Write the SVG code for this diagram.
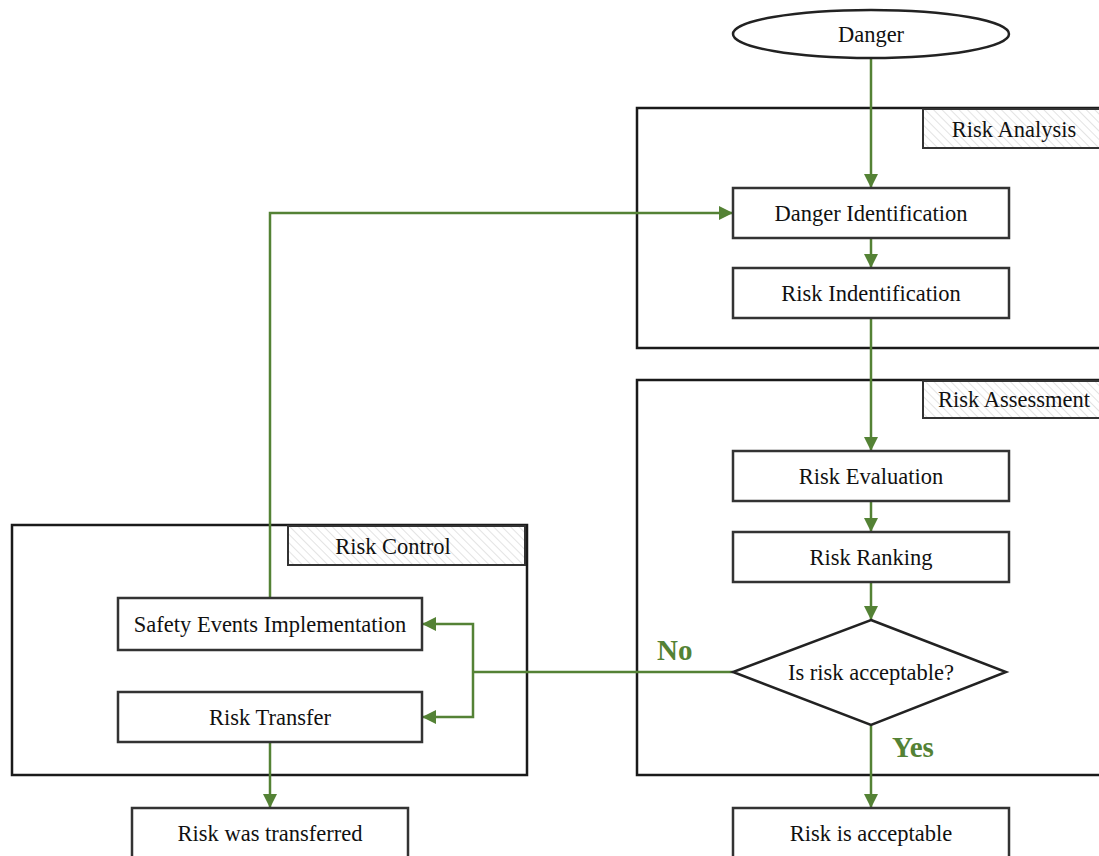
<svg xmlns="http://www.w3.org/2000/svg" width="1099" height="856" viewBox="0 0 1099 856">
<defs>
<pattern id="hatch" width="6" height="6" patternUnits="userSpaceOnUse" patternTransform="rotate(-45)">
<line x1="0" y1="0" x2="0" y2="6" stroke="#c8c8c8" stroke-width="1"/>
</pattern>
<marker id="arr" viewBox="0 0 10 10" refX="10" refY="5" markerWidth="5.6" markerHeight="5.6" orient="auto" markerUnits="strokeWidth">
<path d="M0,0 L10,5 L0,10 z" fill="#548235"/>
</marker>
<style>
.grp{fill:none;stroke:#1a1a1a;stroke-width:2.5}
.lbl{fill:url(#hatch);stroke:#333;stroke-width:2}
.box{fill:#fff;stroke:#333;stroke-width:2.5}
.t{font-family:"Liberation Serif","Times New Roman",serif;font-size:22.5px;fill:#111;text-anchor:middle;dominant-baseline:central}
.c{fill:none;stroke:#548235;stroke-width:2.5}
.ca{fill:none;stroke:#548235;stroke-width:2.5;marker-end:url(#arr)}
.g{font-family:"Liberation Serif","Times New Roman",serif;font-size:29px;font-weight:bold;fill:#548235}
</style>
</defs>
<rect width="1099" height="856" fill="#fff"/>

<g id="risk-analysis">
<rect class="grp" x="637" y="108" width="470" height="240"/>
<rect class="lbl" x="923" y="109" width="180" height="39"/>
<text class="t" x="1014" y="129">Risk Analysis</text>
</g>
<g id="risk-assessment">
<rect class="grp" x="637" y="380" width="470" height="395"/>
<rect class="lbl" x="923" y="381" width="180" height="37"/>
<text class="t" x="1014" y="399">Risk Assessment</text>
</g>
<g id="risk-control">
<rect class="grp" x="12" y="525" width="515" height="250"/>
<rect class="lbl" x="288" y="526" width="237" height="39"/>
<text class="t" x="393" y="546">Risk Control</text>
</g>

<g id="connectors">
<path class="ca" d="M871,58 V188"/>
<path class="ca" d="M871,238 V268"/>
<path class="ca" d="M871,318 V451"/>
<path class="ca" d="M871,501 V532"/>
<path class="ca" d="M871,582 V620"/>
<path class="ca" d="M871,725 V808"/>
<path class="c" d="M733,672 H473"/>
<path class="ca" d="M473,672 V624 H422"/>
<path class="ca" d="M473,672 V717 H422"/>
<path class="ca" d="M270,598 V213 H733"/>
<path class="ca" d="M270,742 V808"/>
<text class="g" x="657" y="660">No</text>
<text class="g" x="892" y="757">Yes</text>
</g>

<g id="danger">
<ellipse cx="871" cy="34" rx="138" ry="24" fill="#fff" stroke="#222" stroke-width="2.5"/>
<text class="t" x="871" y="34">Danger</text>
</g>
<g id="danger-identification">
<rect class="box" x="733" y="188" width="276" height="50"/>
<text class="t" x="871" y="213">Danger Identification</text>
</g>
<g id="risk-identification">
<rect class="box" x="733" y="268" width="276" height="50"/>
<text class="t" x="871" y="293">Risk Indentification</text>
</g>
<g id="risk-evaluation">
<rect class="box" x="733" y="451" width="276" height="50"/>
<text class="t" x="871" y="476">Risk Evaluation</text>
</g>
<g id="risk-ranking">
<rect class="box" x="733" y="532" width="276" height="50"/>
<text class="t" x="871" y="557">Risk Ranking</text>
</g>
<g id="decision">
<polygon points="871,620 1006,672 871,725 733,672" fill="#fff" stroke="#222" stroke-width="2.5"/>
<text class="t" x="871" y="672">Is risk acceptable?</text>
</g>
<g id="risk-acceptable">
<rect class="box" x="733" y="808" width="276" height="60"/>
<text class="t" x="871" y="833">Risk is acceptable</text>
</g>
<g id="safety-events">
<rect class="box" x="118" y="598" width="304" height="52"/>
<text class="t" x="270" y="624">Safety Events Implementation</text>
</g>
<g id="risk-transfer">
<rect class="box" x="118" y="692" width="304" height="50"/>
<text class="t" x="270" y="717">Risk Transfer</text>
</g>
<g id="risk-transferred">
<rect class="box" x="132" y="808" width="276" height="60"/>
<text class="t" x="270" y="833">Risk was transferred</text>
</g>
</svg>
